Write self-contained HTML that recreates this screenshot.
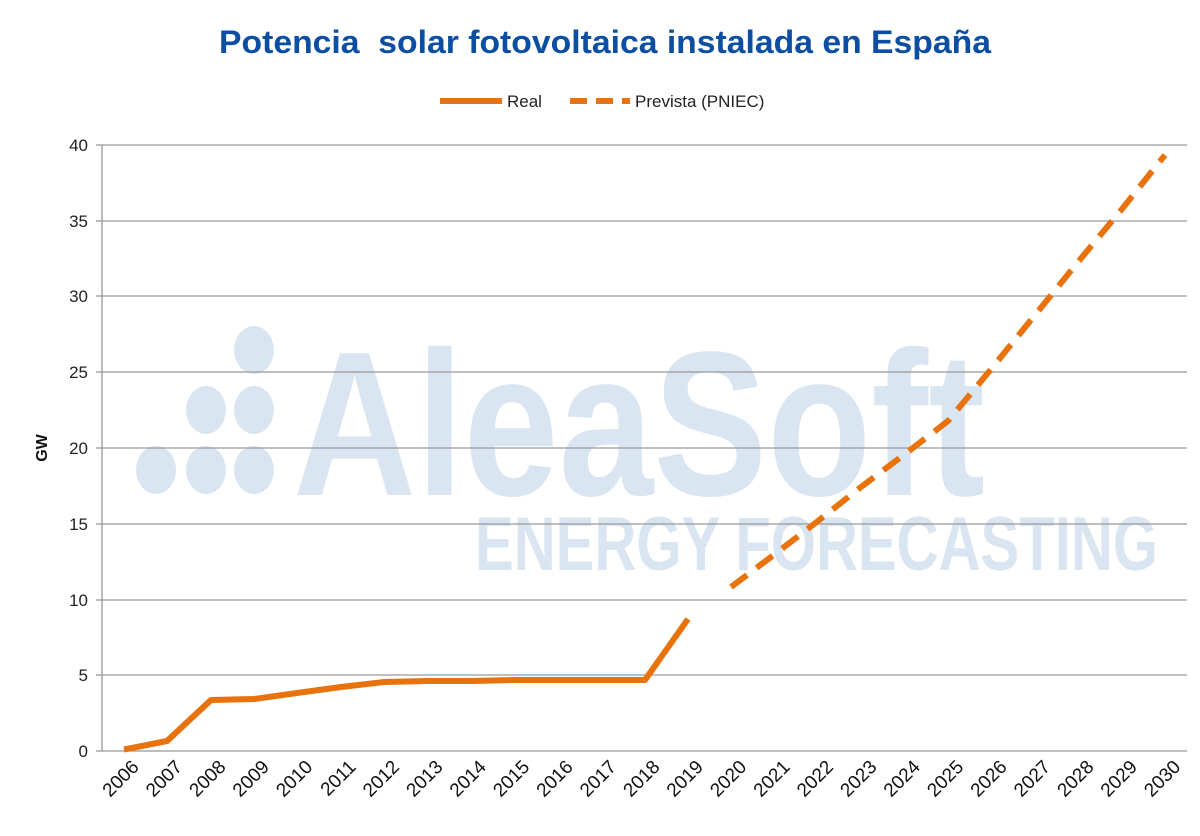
<!DOCTYPE html>
<html><head><meta charset="utf-8"><style>body{margin:0;background:#fff}</style></head><body>
<svg width="1200" height="831" xmlns="http://www.w3.org/2000/svg" font-family="Liberation Sans, sans-serif">
<rect width="1200" height="831" fill="#fff"/>
<g fill="#dae5f2">
<ellipse cx="156" cy="470" rx="20" ry="24"/><ellipse cx="206" cy="470" rx="20" ry="24"/><ellipse cx="254" cy="470" rx="20" ry="24"/>
<ellipse cx="206" cy="410" rx="20" ry="24"/><ellipse cx="254" cy="410" rx="20" ry="24"/><ellipse cx="254" cy="350" rx="20" ry="24"/>
<text x="293" y="495" font-size="206" font-weight="bold" textLength="692" lengthAdjust="spacingAndGlyphs">AleaSoft</text>
<text x="475" y="570" font-size="76" font-weight="bold" textLength="683" lengthAdjust="spacingAndGlyphs">ENERGY FORECASTING</text>
</g>
<text x="605" y="53" text-anchor="middle" font-size="32" font-weight="bold" fill="#0b4ea2" xml:space="preserve" textLength="772" lengthAdjust="spacingAndGlyphs">Potencia  solar fotovoltaica instalada en España</text>
<line x1="440" y1="101" x2="502" y2="101" stroke="#e8720c" stroke-width="6"/>
<text x="507" y="107" font-size="17" fill="#222">Real</text>
<line x1="570" y1="101" x2="630" y2="101" stroke="#e8720c" stroke-width="6" stroke-dasharray="17,9"/>
<text x="635" y="107" font-size="17" fill="#222">Prevista (PNIEC)</text>
<g stroke="#999" stroke-width="1.3">
<line x1="102" y1="145" x2="1187" y2="145"/><line x1="102" y1="221" x2="1187" y2="221"/><line x1="102" y1="296" x2="1187" y2="296"/><line x1="102" y1="372" x2="1187" y2="372"/><line x1="102" y1="448" x2="1187" y2="448"/><line x1="102" y1="524" x2="1187" y2="524"/><line x1="102" y1="600" x2="1187" y2="600"/><line x1="102" y1="675" x2="1187" y2="675"/>
<line x1="102" y1="751" x2="1187" y2="751"/><line x1="102" y1="145" x2="102" y2="751"/>
<line x1="96" y1="145" x2="102" y2="145"/><line x1="96" y1="221" x2="102" y2="221"/><line x1="96" y1="296" x2="102" y2="296"/><line x1="96" y1="372" x2="102" y2="372"/><line x1="96" y1="448" x2="102" y2="448"/><line x1="96" y1="524" x2="102" y2="524"/><line x1="96" y1="600" x2="102" y2="600"/><line x1="96" y1="675" x2="102" y2="675"/><line x1="96" y1="751" x2="102" y2="751"/>
</g>
<g font-size="17" fill="#222" text-anchor="end">
<text x="88" y="151">40</text><text x="88" y="227">35</text><text x="88" y="302">30</text><text x="88" y="378">25</text><text x="88" y="454">20</text><text x="88" y="530">15</text><text x="88" y="606">10</text><text x="88" y="681">5</text><text x="88" y="757">0</text>
</g>
<text transform="translate(47,448) rotate(-90)" text-anchor="middle" font-size="16" font-weight="bold" fill="#111">GW</text>
<g font-size="19" fill="#111" text-anchor="end">
<text transform="translate(140,768) rotate(-45)">2006</text>
<text transform="translate(183.4,768) rotate(-45)">2007</text>
<text transform="translate(226.8,768) rotate(-45)">2008</text>
<text transform="translate(270.2,768) rotate(-45)">2009</text>
<text transform="translate(313.6,768) rotate(-45)">2010</text>
<text transform="translate(357,768) rotate(-45)">2011</text>
<text transform="translate(400.4,768) rotate(-45)">2012</text>
<text transform="translate(443.8,768) rotate(-45)">2013</text>
<text transform="translate(487.2,768) rotate(-45)">2014</text>
<text transform="translate(530.6,768) rotate(-45)">2015</text>
<text transform="translate(574,768) rotate(-45)">2016</text>
<text transform="translate(617.4,768) rotate(-45)">2017</text>
<text transform="translate(660.8,768) rotate(-45)">2018</text>
<text transform="translate(704.2,768) rotate(-45)">2019</text>
<text transform="translate(747.6,768) rotate(-45)">2020</text>
<text transform="translate(791,768) rotate(-45)">2021</text>
<text transform="translate(834.4,768) rotate(-45)">2022</text>
<text transform="translate(877.8,768) rotate(-45)">2023</text>
<text transform="translate(921.2,768) rotate(-45)">2024</text>
<text transform="translate(964.6,768) rotate(-45)">2025</text>
<text transform="translate(1008,768) rotate(-45)">2026</text>
<text transform="translate(1051.4,768) rotate(-45)">2027</text>
<text transform="translate(1094.8,768) rotate(-45)">2028</text>
<text transform="translate(1138.2,768) rotate(-45)">2029</text>
<text transform="translate(1181.6,768) rotate(-45)">2030</text>
</g>
<polyline fill="none" stroke="#e8720c" stroke-width="6" stroke-linejoin="round" points="124,749.5 167,741 211,700 254,699 297,693 341,687 384,682 428,681 471,681 515,680 558,680 601,680 645,680 688,619"/>
<polyline fill="none" stroke="#e8720c" stroke-width="6" stroke-dasharray="20,12" points="731,587 775,554 818,521 861,487 905,454 948,421 992,368 1035,315 1078,262 1122,209 1165,155"/>
</svg>
</body></html>
